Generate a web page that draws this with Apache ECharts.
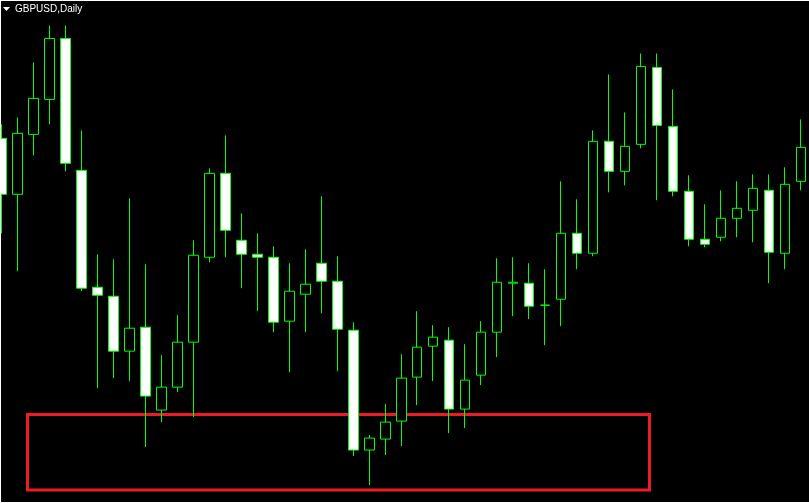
<!DOCTYPE html>
<html>
<head>
<meta charset="utf-8">
<title>GBPUSD,Daily</title>
<script src="https://cdn.jsdelivr.net/npm/echarts@6/dist/echarts.min.js"></script>
<style>
  html, body { margin: 0; padding: 0; background: #ffffff; overflow: hidden; }
  #chart { position: absolute; left: -7px; top: 1px; width: 816px; height: 501px; }
  #edge { position: absolute; left: 0; top: 0; width: 1px; height: 503px; background: #ffffff; }
</style>
</head>
<body>
<div id="chart"></div>
<div id="edge"></div>
<script>
// daily bars, GBPUSD
const openVals = [
  1.4862, 1.4806, 1.4866, 1.4901, 1.4962, 1.4830, 1.4713, 1.4704, 1.4649, 1.4673,
  1.4590, 1.4613, 1.4658, 1.4743, 1.4827, 1.4760, 1.4746, 1.4743, 1.4679, 1.4706,
  1.4737, 1.4719, 1.4670, 1.4550, 1.4561, 1.4579, 1.4623, 1.4654, 1.4660, 1.4591,
  1.4625, 1.4668, 1.4717, 1.4717, 1.4695, 1.4701, 1.4767, 1.4747, 1.4859, 1.4829,
  1.4856, 1.4933, 1.4874, 1.4809, 1.4761, 1.4763, 1.4782, 1.4790, 1.4810, 1.4747,
  1.4819
]
const closeVals = [
  1.4806, 1.4867, 1.4902, 1.4962, 1.4837, 1.4712, 1.4705, 1.4649, 1.4672, 1.4604,
  1.4613, 1.4658, 1.4745, 1.4827, 1.4770, 1.4746, 1.4743, 1.4678, 1.4709, 1.4716,
  1.4719, 1.4671, 1.4550, 1.4562, 1.4578, 1.4622, 1.4653, 1.4663, 1.4591, 1.4620,
  1.4668, 1.4718, 1.4718, 1.4694, 1.4695, 1.4767, 1.4747, 1.4859, 1.4829, 1.4854,
  1.4934, 1.4875, 1.4809, 1.4761, 1.4756, 1.4782, 1.4792, 1.4812, 1.4748, 1.4816,
  1.4853
]
const lowVals = [
  1.4767, 1.4729, 1.4845, 1.4876, 1.4829, 1.4709, 1.4612, 1.4622, 1.4619, 1.4553,
  1.4578, 1.4608, 1.4583, 1.4738, 1.4743, 1.4712, 1.4689, 1.4668, 1.4628, 1.4668,
  1.4687, 1.4629, 1.4544, 1.4515, 1.4545, 1.4554, 1.4595, 1.4619, 1.4567, 1.4572,
  1.4615, 1.4643, 1.4684, 1.4681, 1.4655, 1.4674, 1.4731, 1.4744, 1.4808, 1.4815,
  1.4852, 1.4800, 1.4804, 1.4754, 1.4753, 1.4759, 1.4763, 1.4758, 1.4717, 1.4731,
  1.4810
]
const highVals = [
  1.4876, 1.4883, 1.4938, 1.4975, 1.4975, 1.4870, 1.4746, 1.4741, 1.4802, 1.4736,
  1.4645, 1.4685, 1.4760, 1.4832, 1.4865, 1.4787, 1.4767, 1.4754, 1.4737, 1.4751,
  1.4804, 1.4744, 1.4678, 1.4565, 1.4596, 1.4646, 1.4689, 1.4675, 1.4673, 1.4656,
  1.4679, 1.4742, 1.4743, 1.4737, 1.4731, 1.4819, 1.4801, 1.4870, 1.4926, 1.4888,
  1.4947, 1.4947, 1.4911, 1.4825, 1.4796, 1.4810, 1.4819, 1.4826, 1.4826, 1.4833,
  1.4881
]
const priceMin = 1.4498, priceMax = 1.4999

const chart = echarts.init(document.getElementById('chart'))

const days = openVals.map((v, i) => 'D' + (i + 1))
const bars = openVals.map((o, i) => [o, closeVals[i], lowVals[i], highVals[i]])

// chart div starts 7px left of the page
const dx = 7

const option = {
  backgroundColor: '#000000',
  animation: false,
  grid: {
    left: 0.5,
    top: 0.5,
    width: 816,
    height: 501
  },
  xAxis: {
    type: 'category',
    show: false,
    boundaryGap: true,
    data: days
  },
  yAxis: {
    type: 'value',
    show: false,
    scale: true,
    min: priceMin,
    max: priceMax
  },
  series: [{
    name: 'GBPUSD',
    type: 'candlestick',
    barWidth: 10,
    silent: true,
    itemStyle: {
      color: '#000000',
      color0: '#ffffff',
      borderColor: '#00ff00',
      borderColor0: '#00ff00',
      borderColorDoji: '#00ff00',
      borderWidth: 1
    },
    data: bars
  }],
  graphic: [
    {
      type: 'polygon',
      shape: { points: [[dx + 3, 6], [dx + 10, 6], [dx + 6.5, 10]] },
      style: { fill: '#ffffff' }
    },
    {
      type: 'text',
      left: dx + 15,
      top: 3,
      style: {
        text: 'GBPUSD,Daily',
        fill: '#ffffff',
        font: '10px "Liberation Sans", Arial, sans-serif'
      }
    },
    {
      type: 'rect',
      shape: { x: dx + 27.5, y: 413.5, width: 622, height: 75.5 },
      style: { fill: 'none', stroke: '#ed1c24', lineWidth: 3 }
    }
  ]
}

chart.setOption(option)
</script>
</body>
</html>
